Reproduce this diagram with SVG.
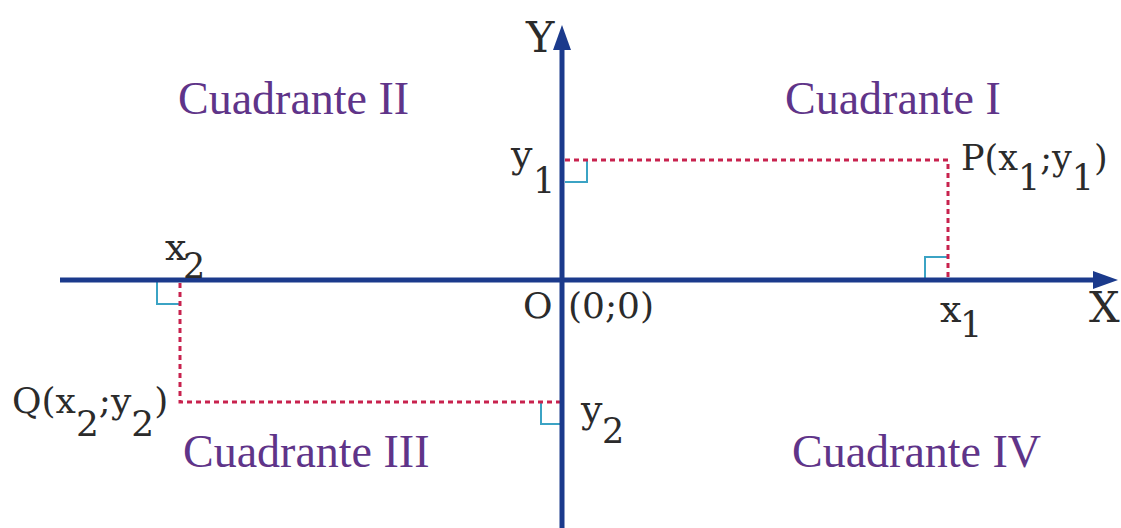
<svg xmlns="http://www.w3.org/2000/svg" width="1121" height="528" viewBox="0 0 1121 528">
<style>
.axis{stroke:#1b3a8c;stroke-width:5;fill:none}
.head{fill:#1b3a8c}
.dot{stroke:#c8224e;stroke-width:3;fill:none;stroke-dasharray:5 4}
.ra{stroke:#3ba3c4;stroke-width:2;fill:none}
.lbl{font-family:"DejaVu Serif",serif;fill:#2b2b2b}
.quad{font-family:"Liberation Serif",serif;font-size:46px;fill:#5f3489}
</style>
<rect width="1121" height="528" fill="#ffffff"/>
<g id="right-angles">
<polyline class="ra" points="565,182 587,182 587,160"/>
<polyline class="ra" points="925,278 925,257 948,257"/>
<polyline class="ra" points="157,282 157,304 180,304"/>
<polyline class="ra" points="541,402 541,424 560,424"/>
</g>
<g id="connectors">
<polyline class="dot" points="565,160 948,160 948,278"/>
<polyline class="dot" points="180,283 180,402 560,402"/>
</g>
<g id="axes">
<line class="axis" x1="60" y1="280" x2="1096" y2="280"/>
<polygon class="head" points="1118,280 1093,271 1093,289"/>
<line class="axis" x1="562" y1="528" x2="562" y2="47"/>
<polygon class="head" points="562,25 553,50 571,50"/>
</g>
<g id="axis-labels">
<text class="lbl" x="526" y="52" font-size="43">Y</text>
<text class="lbl" x="1089" y="322" font-size="43">X</text>
<text class="lbl" x="523" y="318" font-size="36">O</text>
<text class="lbl" x="568" y="318" font-size="36">(0;0)</text>
</g>
<g id="coord-labels">
<text class="lbl" font-size="38"><tspan x="511" y="167">y</tspan><tspan x="533" y="193" font-size="35">1</tspan></text>
<text class="lbl" font-size="38"><tspan x="940" y="322">x</tspan><tspan x="960" y="337" font-size="35">1</tspan></text>
<text class="lbl" font-size="38"><tspan x="165" y="260">x</tspan><tspan x="183" y="278" font-size="35">2</tspan></text>
<text class="lbl" font-size="38"><tspan x="581" y="422">y</tspan><tspan x="602" y="443" font-size="35">2</tspan></text>
</g>
<g id="point-P">
<text class="lbl" x="961" y="170" font-size="35">P(x<tspan dy="20">1</tspan><tspan dy="-20">;y</tspan><tspan dy="20">1</tspan><tspan dy="-20">)</tspan></text>
</g>
<g id="point-Q">
<text class="lbl" x="12" y="413" font-size="36">Q(x<tspan dy="23">2</tspan><tspan dy="-23">;y</tspan><tspan dy="23">2</tspan><tspan dy="-23">)</tspan></text>
</g>
<g id="quadrant-I"><text class="quad" x="785" y="114">Cuadrante I</text></g>
<g id="quadrant-II"><text class="quad" x="178" y="114">Cuadrante II</text></g>
<g id="quadrant-III"><text class="quad" x="183" y="467">Cuadrante III</text></g>
<g id="quadrant-IV"><text class="quad" x="792" y="467">Cuadrante IV</text></g>
</svg>
